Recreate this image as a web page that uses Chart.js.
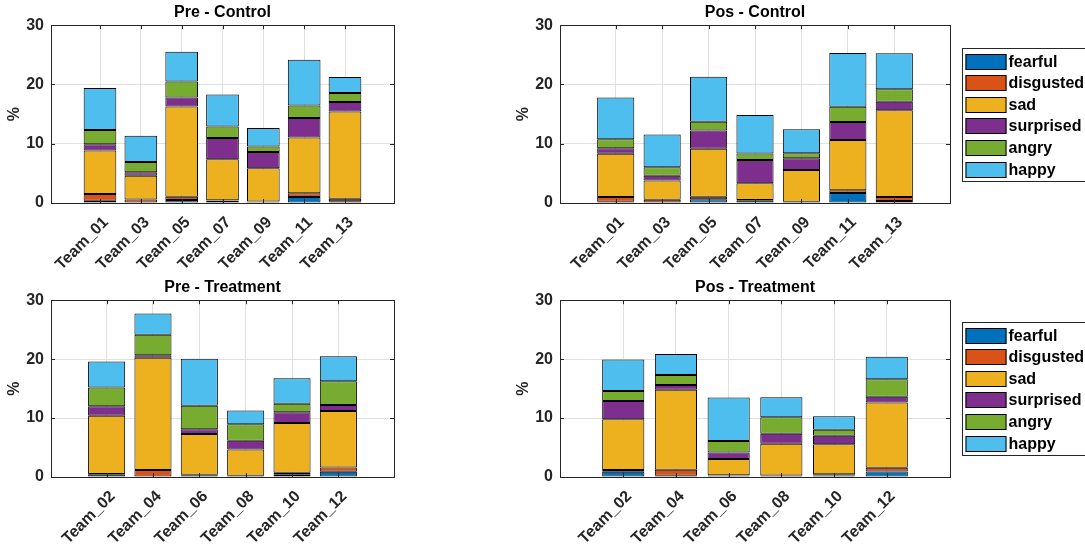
<!DOCTYPE html>
<html>
<head>
<meta charset="utf-8">
<script src="https://cdn.jsdelivr.net/npm/chart.js@4.4.0/dist/chart.umd.min.js"></script>
<style>
  body { margin: 0; background: #fff; width: 1085px; height: 546px; overflow: hidden; position: relative; }
  canvas { position: absolute; }
</style>
</head>
<body>
<canvas id="preControl" width="400" height="273" style="left:0;top:0"></canvas>
<canvas id="posControl" width="576" height="273" style="left:509px;top:0"></canvas>
<canvas id="preTreatment" width="400" height="271" style="left:0;top:275px"></canvas>
<canvas id="posTreatment" width="576" height="271" style="left:509px;top:275px"></canvas>
<script>
// categories
var controlTeams = ['Team_01', 'Team_03', 'Team_05', 'Team_07', 'Team_09', 'Team_11', 'Team_13'];
var treatmentTeams = ['Team_02', 'Team_04', 'Team_06', 'Team_08', 'Team_10', 'Team_12'];
var emotions = ['fearful', 'disgusted', 'sad', 'surprised', 'angry', 'happy'];
var yTicks = [0, 10, 20, 30];

// % per team, one row per emotion (same order as emotions)
var preControl = [
  [0.4, 0.1, 0.5, 0.4, 0.2, 1.0, 0.3],
  [1.1, 0.5, 0.55, 0.05, 0.05, 0.65, 0.4],
  [7.35, 4.0, 15.25, 6.95, 5.6, 9.4, 14.75],
  [1.05, 0.6, 1.5, 3.55, 2.75, 3.3, 1.6],
  [2.4, 1.7, 2.7, 1.95, 0.95, 2.1, 1.5],
  [7.1, 4.45, 5.0, 5.4, 3.1, 7.7, 2.7]
];
var posControl = [
  [0.2, 0.1, 0.65, 0.45, 0.1, 1.7, 0.35],
  [0.8, 0.45, 0.4, 0.05, 0.1, 0.45, 0.65],
  [7.3, 3.25, 8.1, 2.85, 5.35, 8.5, 14.65],
  [0.95, 0.8, 3.1, 3.9, 2.0, 3.0, 1.45],
  [1.5, 1.45, 1.45, 1.1, 0.85, 2.6, 2.1],
  [7.05, 5.5, 7.6, 6.5, 4.05, 9.05, 6.05]
];
var preTreatment = [
  [0.45, 0.1, 0.3, 0.15, 0.4, 0.9],
  [0.05, 1.1, 0.1, 0.05, 0.3, 0.7],
  [9.9, 19.05, 6.9, 4.45, 8.45, 9.6],
  [1.6, 0.4, 0.8, 1.5, 1.85, 1.0],
  [3.2, 3.5, 4.0, 2.8, 1.45, 4.05],
  [4.4, 3.6, 7.95, 2.35, 4.3, 4.25]
];
var posTreatment = [
  [0.9, 0.2, 0.2, 0.15, 0.25, 0.95],
  [0.3, 1.05, 0.1, 0.1, 0.2, 0.6],
  [8.6, 13.55, 2.75, 5.4, 5.1, 11.1],
  [3.1, 0.8, 1.1, 1.7, 1.45, 0.95],
  [1.7, 1.7, 1.95, 2.8, 1.0, 3.0],
  [5.35, 3.55, 7.4, 3.4, 2.3, 3.8]
];

var colors = ['#0072BD', '#D95319', '#EDB120', '#7E2F8E', '#77AC30', '#4DBEEE'];
var FONT = "'Liberation Sans', Arial, sans-serif";
var INK = '#262626';
var GRID = '#e0e0e0';

// matlab style axes box with inner ticks + framed legend
var axesBox = {
  id: 'axesBox',
  afterDatasetsDraw: function(chart) {
    var a = chart.chartArea, ctx = chart.ctx;
    var xs = chart.scales.x, ys = chart.scales.y;
    ctx.save();
    ctx.strokeStyle = INK;
    ctx.lineWidth = 1;
    ctx.beginPath();
    xs.ticks.forEach(function(t) {
      var px = Math.round(xs.getPixelForValue(t.value)) + 0.5;
      ctx.moveTo(px, a.bottom); ctx.lineTo(px, a.bottom - 4);
      ctx.moveTo(px, a.top); ctx.lineTo(px, a.top + 4);
    });
    ys.ticks.forEach(function(t) {
      var py = Math.round(ys.getPixelForValue(t.value)) + 0.5;
      ctx.moveTo(a.left, py); ctx.lineTo(a.left + 4, py);
      ctx.moveTo(a.right, py); ctx.lineTo(a.right - 4, py);
    });
    ctx.stroke();
    ctx.strokeRect(Math.round(a.left) + 0.5, Math.round(a.top) + 0.5,
      Math.round(a.right - a.left), Math.round(a.bottom - a.top));
    ctx.restore();
  },
  afterDraw: function(chart) {
    if (!chart.options.plugins.axesBox.legend) return;
    var a = chart.chartArea, ctx = chart.ctx;
    var rowH = 21.6, sw = 41, sh = 16;
    var n = chart.data.datasets.length;
    var h = 5 + (n - 1) * rowH + sh + 4;
    var top = Math.round((a.top + a.bottom) / 2 - h / 2) + 0.5;
    var left = Math.round(a.right) + 12.5;
    ctx.save();
    ctx.fillStyle = '#fff';
    ctx.fillRect(left, top, 140, h);
    ctx.strokeStyle = INK;
    ctx.lineWidth = 1;
    ctx.strokeRect(left, top, 140, h);
    ctx.font = 'bold 16px ' + FONT;
    ctx.textBaseline = 'middle';
    chart.data.datasets.forEach(function(ds, i) {
      var y = Math.round(top + 5 + i * rowH);
      ctx.fillStyle = ds.backgroundColor;
      ctx.fillRect(left + 3, y, sw, sh);
      ctx.strokeStyle = '#000';
      ctx.strokeRect(left + 3.5, y + 0.5, sw - 1, sh - 1);
      ctx.fillStyle = '#000';
      ctx.fillText(ds.label, left + 46, y + sh / 2 + 1);
    });
    ctx.restore();
  }
};

function makePanel(id, title, teams, rows, withLegend, xAxisH) {
  var datasets = emotions.map(function(name, k) {
    return {
      label: name,
      data: rows[k].map(function(v, i) { return {x: i + 1, y: v}; }),
      backgroundColor: colors[k],
      borderColor: '#000',
      borderWidth: 1,
      borderSkipped: false,
      barPercentage: 0.8,
      categoryPercentage: 1.0
    };
  });
  return new Chart(document.getElementById(id), {
    type: 'bar',
    data: {datasets: datasets},
    options: {
      responsive: false,
      animation: false,
      devicePixelRatio: 1,
      layout: {padding: {left: 0, right: withLegend ? 135 : 6, top: 0, bottom: 0}},
      plugins: {
        legend: {display: false},
        tooltip: {enabled: false},
        title: {
          display: true, text: title, fullSize: false, color: '#000',
          font: {family: FONT, size: 16, weight: 'bold'},
          padding: {top: 3, bottom: 3}
        },
        axesBox: {legend: withLegend}
      },
      scales: {
        x: {
          type: 'linear', stacked: true, offset: false,
          min: -0.2, max: teams.length + 1.2,
          afterBuildTicks: function(s) {
            s.ticks = teams.map(function(t, i) { return {value: i + 1}; });
          },
          afterFit: function(s) { s.height = xAxisH; },
          ticks: {
            autoSkip: false, minRotation: 45, maxRotation: 45, padding: 10, labelOffset: 6,
            color: INK, font: {family: FONT, size: 16, weight: 'bold'},
            callback: function(v) { return teams[v - 1]; }
          },
          grid: {color: GRID, offset: false, drawTicks: false, tickLength: 0},
          border: {display: false}
        },
        y: {
          stacked: true, min: 0, max: 30,
          afterBuildTicks: function(s) {
            s.ticks = yTicks.map(function(v) { return {value: v}; });
          },
          afterFit: function(s) { s.width = 51; },
          ticks: {
            padding: 7, color: INK,
            font: {family: FONT, size: 16, weight: 'bold'}
          },
          title: {
            display: true, text: '%', color: INK,
            font: {family: FONT, size: 16, weight: 'bold'},
            padding: {top: 5, bottom: 0}
          },
          grid: {color: GRID, drawTicks: false, tickLength: 0},
          border: {display: false}
        }
      }
    },
    plugins: [axesBox]
  });
}

makePanel('preControl', 'Pre - Control', controlTeams, preControl, false, 70);
makePanel('posControl', 'Pos - Control', controlTeams, posControl, true, 70);
makePanel('preTreatment', 'Pre - Treatment', treatmentTeams, preTreatment, false, 69);
makePanel('posTreatment', 'Pos - Treatment', treatmentTeams, posTreatment, true, 69);
</script>
</body>
</html>
